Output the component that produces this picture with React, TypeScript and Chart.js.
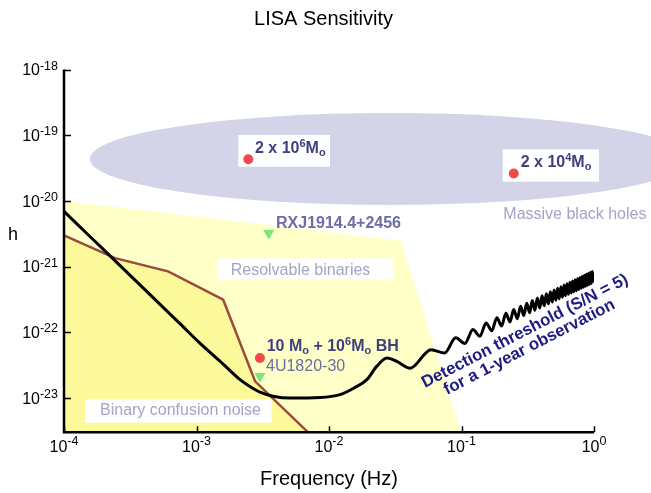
import React, { useEffect, useRef } from 'react';
import { Chart, registerables } from 'chart.js';

Chart.register(...registerables);

// ---------- axis ranges ----------
const X_MIN = 1e-4;
const X_MAX = 1;
const Y_MIN = Math.pow(10, -23.52);
const Y_MAX = 1e-18;

// ---------- tick labels (decade exponents) ----------
const xTickExponents = [-4, -3, -2, -1, 0];
const yTickExponents = [-18, -19, -20, -21, -22, -23];

// ---------- LISA detection threshold (S/N = 5, 1-year) ----------
const sensitivityFreq = [
  1e-4, 1.62e-4, 2.65e-4, 4.46e-4, 7.5e-4, 1.06e-3, 1.59e-3, 2.13e-3, 2.53e-3, 3.01e-3,
  3.78e-3, 5.08e-3, 8.55e-3, 0.0121, 0.0157, 0.0193, 0.0229, 0.0274, 0.0325, 0.041,
  0.0589, 0.0746, 0.0904, 0.1061, 0.1219, 0.1376, 0.1534, 0.1691, 0.1849, 0.2006,
  0.2164, 0.2321, 0.2479, 0.2636, 0.2794, 0.2951, 0.3109, 0.3266, 0.3424, 0.3581,
  0.3739, 0.3896, 0.4054, 0.4211, 0.4369, 0.4526, 0.4684, 0.4841, 0.4999, 0.5156,
  0.5314, 0.5471, 0.5629, 0.5786, 0.5944, 0.6101, 0.6259, 0.6416, 0.6574, 0.6731,
  0.6889, 0.7046, 0.7204, 0.7361, 0.7519, 0.7676, 0.7834, 0.7991, 0.8149, 0.8306,
  0.8464, 0.8621, 0.8779, 0.8936, 0.9094, 0.9251, 0.9409, 0.9566, 0.9724, 0.9881,
];
const sensitivityStrain = [
  6.95e-21, 2.71e-21, 1.04e-21, 3.75e-22, 1.36e-22, 6.87e-23, 3.29e-23, 1.91e-23, 1.5e-23, 1.23e-23,
  1.07e-23, 1.0e-23, 1.02e-23, 1.13e-23, 1.45e-23, 1.91e-23, 3.04e-23, 4.08e-23, 3.62e-23, 2.85e-23,
  5.46e-23, 4.86e-23, 8.3e-23, 6.8e-23, 1.11e-22, 8.71e-23, 1.39e-22, 1.06e-22, 1.67e-22, 1.25e-22,
  1.95e-22, 1.44e-22, 2.23e-22, 1.62e-22, 2.5e-22, 1.81e-22, 2.78e-22, 1.99e-22, 3.05e-22, 2.17e-22,
  3.33e-22, 2.36e-22, 3.6e-22, 2.54e-22, 3.87e-22, 2.72e-22, 4.15e-22, 2.9e-22, 4.42e-22, 3.08e-22,
  4.69e-22, 3.26e-22, 4.97e-22, 3.44e-22, 5.24e-22, 3.61e-22, 5.51e-22, 3.79e-22, 5.78e-22, 3.97e-22,
  6.05e-22, 4.15e-22, 6.32e-22, 4.32e-22, 6.59e-22, 4.5e-22, 6.86e-22, 4.68e-22, 7.13e-22, 4.85e-22,
  7.4e-22, 5.02e-22, 7.67e-22, 5.2e-22, 7.94e-22, 5.38e-22, 8.2e-22, 5.56e-22, 8.47e-22, 5.73e-22,
];

// ---------- binary confusion noise (upper edge) ----------
const confusionFreq = [1e-4, 2.43e-4, 6.1e-4, 1.59e-3, 2.77e-3, 6.95e-3];
const confusionStrain = [3.0e-21, 1.35e-21, 8.5e-22, 3.14e-22, 1.8e-23, Y_MIN];

// ---------- resolvable binaries region (upper edge) ----------
const resolvableFreq = [1e-4, 0.0349, 0.099];
const resolvableStrain = [1e-20, 2.48e-21, Y_MIN];

// ---------- sources ----------
const massiveBHFreq = [2.46e-3, 0.248];
const massiveBHStrain = [4.31e-20, 2.61e-20];
const captureFreq = [3.01e-3];
const captureStrain = [4.08e-23];
const binaryFreq = [3.51e-3, 3.01e-3];
const binaryStrain = [3.24e-21, 2.15e-23];

// ---------- massive black hole region (ellipse in log-log space) ----------
const mbhCenterFreq = 0.0288;
const mbhCenterStrain = 4.36e-20;
const mbhHalfWidthDecades = 2.264;
const mbhHalfHeightDecades = 0.7;

const FONT = '"Liberation Sans", Arial, Helvetica, sans-serif';

const toPoints = (xs: number[], ys: number[]) => xs.map((x, i) => ({ x, y: ys[i] }));

// reference pixel frame of the plot area, used to place annotation texts
const REF = { left: 64, right: 594, top: 69.5, bottom: 432.3 };

type Part = { t: string; s: number; b?: boolean; dy?: number };

function partsWidth(ctx: CanvasRenderingContext2D, parts: Part[]) {
  let w = 0;
  for (const p of parts) {
    ctx.font = `${p.b ? 'bold ' : ''}${p.s}px ${FONT}`;
    w += ctx.measureText(p.t).width;
  }
  return w;
}

function drawParts(ctx: CanvasRenderingContext2D, parts: Part[], x: number, y: number) {
  let cx = x;
  for (const p of parts) {
    ctx.font = `${p.b ? 'bold ' : ''}${p.s}px ${FONT}`;
    ctx.fillText(p.t, cx, y + (p.dy || 0));
    cx += ctx.measureText(p.t).width;
  }
}

const decorPlugin = {
  id: 'lisaDecor',
  beforeDatasetsDraw(chart: any) {
    const { ctx, scales } = chart;
    const xs = scales.x;
    const ys = scales.y;
    const cx = xs.getPixelForValue(mbhCenterFreq);
    const cy = ys.getPixelForValue(mbhCenterStrain);
    const pxPerDecX = xs.getPixelForValue(1) - xs.getPixelForValue(0.1);
    const pxPerDecY = ys.getPixelForValue(1e-21) - ys.getPixelForValue(1e-20);
    ctx.save();
    ctx.fillStyle = '#d3d4e8';
    ctx.beginPath();
    ctx.ellipse(cx, cy, mbhHalfWidthDecades * pxPerDecX, mbhHalfHeightDecades * pxPerDecY, 0, 0, Math.PI * 2);
    ctx.fill();
    ctx.restore();
  },
  afterDatasetDraw(chart: any, args: any) {
    if (args.index !== 1) return;
    const { ctx, chartArea: ca } = chart;
    const mx = (x: number) => ca.left + ((x - REF.left) * (ca.right - ca.left)) / (REF.right - REF.left);
    const my = (y: number) => ca.top + ((y - REF.top) * (ca.bottom - ca.top)) / (REF.bottom - REF.top);
    const boxes = [
      [238.3, 135, 330, 166.7],
      [502.7, 149.3, 599, 181.7],
      [218, 258.3, 393.3, 279.3],
      [85, 399.5, 271.7, 422.7],
    ];
    ctx.save();
    ctx.fillStyle = '#ffffff';
    for (const [x1, y1, x2, y2] of boxes) {
      ctx.fillRect(mx(x1), my(y1), mx(x2) - mx(x1), my(y2) - my(y1));
    }
    ctx.restore();
  },
  afterDatasetsDraw(chart: any) {
    const { ctx, chartArea: ca, scales } = chart;
    const xs = scales.x;
    const ys = scales.y;
    const mx = (x: number) => ca.left + ((x - REF.left) * (ca.right - ca.left)) / (REF.right - REF.left);
    const my = (y: number) => ca.top + ((y - REF.top) * (ca.bottom - ca.top)) / (REF.bottom - REF.top);

    ctx.save();
    ctx.textBaseline = 'alphabetic';
    ctx.textAlign = 'left';

    // source labels
    const dark = '#40407e';
    const mid = '#6d6da5';
    const light = '#a3a3c8';
    ctx.fillStyle = dark;
    drawParts(ctx, [
      { t: '2 x 10', s: 16, b: true },
      { t: '6', s: 11, b: true, dy: -6 },
      { t: 'M', s: 16, b: true },
      { t: 'o', s: 11, b: true, dy: 3.5 },
    ], mx(255), my(152.7));
    drawParts(ctx, [
      { t: '2 x 10', s: 16, b: true },
      { t: '4', s: 11, b: true, dy: -6 },
      { t: 'M', s: 16, b: true },
      { t: 'o', s: 11, b: true, dy: 3.5 },
    ], mx(520.7), my(166.7));
    drawParts(ctx, [
      { t: '10 M', s: 16, b: true },
      { t: 'o', s: 11, b: true, dy: 3.5 },
      { t: ' + 10', s: 16, b: true },
      { t: '6', s: 11, b: true, dy: -6 },
      { t: 'M', s: 16, b: true },
      { t: 'o', s: 11, b: true, dy: 3.5 },
      { t: ' BH', s: 16, b: true },
    ], mx(266.7), my(350.7));

    ctx.fillStyle = mid;
    ctx.font = `bold 16px ${FONT}`;
    ctx.fillText('RXJ1914.4+2456', mx(276), my(227.7));
    ctx.font = `16px ${FONT}`;
    ctx.fillText('4U1820-30', mx(266), my(370.7));

    ctx.fillStyle = light;
    ctx.font = `16px ${FONT}`;
    ctx.fillText('Massive black holes', mx(503.3), my(219.3));
    ctx.fillText('Resolvable binaries', mx(230.7), my(275.3));
    ctx.fillText('Binary confusion noise', mx(100), my(415));

    // rotated detection threshold label
    ctx.fillStyle = '#1c1c84';
    ctx.font = `bold 16.8px ${FONT}`;
    const ang = (-27.3 * Math.PI) / 180;
    ctx.save();
    ctx.translate(mx(425), my(388));
    ctx.rotate(ang);
    ctx.fillText('Detection threshold (S/N = 5)', 0, 0);
    ctx.restore();
    ctx.save();
    ctx.translate(mx(447), my(395));
    ctx.rotate(ang);
    ctx.fillText('for a 1-year observation', 0, 0);
    ctx.restore();

    // axes lines
    ctx.strokeStyle = '#000000';
    ctx.lineWidth = 2.5;
    ctx.beginPath();
    ctx.moveTo(ca.left, ca.top);
    ctx.lineTo(ca.left, ca.bottom);
    ctx.lineTo(ca.right, ca.bottom);
    ctx.stroke();

    // ticks (inward)
    ctx.lineWidth = 1.5;
    ctx.beginPath();
    for (const e of yTickExponents) {
      const y = Math.round(ys.getPixelForValue(Math.pow(10, e))) + 0.5;
      ctx.moveTo(ca.left, y);
      ctx.lineTo(ca.left + 7, y);
    }
    for (const e of xTickExponents) {
      const x = Math.round(xs.getPixelForValue(Math.pow(10, e))) + 0.5;
      ctx.moveTo(x, ca.bottom);
      ctx.lineTo(x, ca.bottom - 6);
    }
    ctx.stroke();

    // tick labels with superscript exponents
    ctx.fillStyle = '#000000';
    for (const e of yTickExponents) {
      const y = ys.getPixelForValue(Math.pow(10, e));
      const parts: Part[] = [
        { t: '10', s: 16, dy: 5.7 },
        { t: String(e), s: 12.5, dy: 0 },
      ];
      const w = partsWidth(ctx, parts);
      drawParts(ctx, parts, ca.left - 6 - w, y);
    }
    for (const e of xTickExponents) {
      const x = xs.getPixelForValue(Math.pow(10, e));
      const parts: Part[] = [
        { t: '10', s: 16, dy: 7 },
        { t: String(e), s: 12.5, dy: 0 },
      ];
      const w = partsWidth(ctx, parts);
      drawParts(ctx, parts, x - w / 2, ca.bottom + 12.7);
    }

    // title and axis titles
    ctx.textAlign = 'center';
    ctx.font = `20px ${FONT}`;
    ctx.fillText('LISA Sensitivity', 323.5, 25);
    ctx.fillText('Frequency (Hz)', (ca.left + ca.right) / 2, 485);
    ctx.font = `18px ${FONT}`;
    ctx.fillText('h', 13, 240);
    ctx.restore();
  },
};

export default function App() {
  const ref = useRef<HTMLCanvasElement | null>(null);

  useEffect(() => {
    if (!ref.current) return;
    const chart = new Chart(ref.current, {
      type: 'scatter',
      data: {
        datasets: [
          {
            label: 'Detection threshold',
            data: toPoints(sensitivityFreq, sensitivityStrain),
            showLine: true,
            borderColor: '#000000',
            borderWidth: 3,
            pointRadius: 0,
            tension: 0.4,
            cubicInterpolationMode: 'monotone',
            fill: false,
            order: 1,
          },
          {
            label: 'Binary confusion noise',
            data: toPoints(confusionFreq, confusionStrain),
            showLine: true,
            borderColor: '#9c4a3e',
            borderWidth: 2.5,
            backgroundColor: '#fcf99a',
            pointRadius: 0,
            tension: 0,
            fill: 'start',
            order: 3,
          },
          {
            label: 'Resolvable binaries',
            data: toPoints(resolvableFreq, resolvableStrain),
            showLine: true,
            borderWidth: 0,
            borderColor: 'rgba(0,0,0,0)',
            backgroundColor: '#ffffc8',
            pointRadius: 0,
            tension: 0,
            fill: 'start',
            order: 4,
          },
          {
            label: 'Massive black holes',
            data: toPoints(massiveBHFreq, massiveBHStrain),
            pointRadius: 5,
            backgroundColor: '#f04a4a',
            borderWidth: 0,
            order: 0,
          },
          {
            label: 'Capture',
            data: toPoints(captureFreq, captureStrain),
            pointRadius: 5,
            backgroundColor: '#f04a4a',
            borderWidth: 0,
            order: 0,
          },
          {
            label: 'Binaries',
            data: toPoints(binaryFreq, binaryStrain),
            pointStyle: 'triangle',
            rotation: 180,
            pointRadius: 6.5,
            backgroundColor: '#7ce67c',
            borderWidth: 0,
            order: 0,
          },
        ],
      },
      options: {
        animation: false,
        responsive: false,
        maintainAspectRatio: false,
        layout: { padding: { left: 64, right: 57, top: 69.5, bottom: 60.7 } },
        plugins: {
          legend: { display: false },
          tooltip: { enabled: false },
          title: { display: false },
        },
        scales: {
          x: {
            type: 'logarithmic',
            min: X_MIN,
            max: X_MAX,
            grid: { display: false, drawTicks: false },
            border: { display: false },
            ticks: { display: false },
          },
          y: {
            type: 'logarithmic',
            min: Y_MIN,
            max: Y_MAX,
            grid: { display: false, drawTicks: false },
            border: { display: false },
            ticks: { display: false },
          },
        },
      },
      plugins: [decorPlugin],
    } as any);
    return () => chart.destroy();
  }, []);

  return (
    <div style={{ position: 'fixed', left: 0, top: 0, width: 651, height: 493, background: '#ffffff' }}>
      <canvas ref={ref} width={651} height={493} style={{ display: 'block' }} />
    </div>
  );
}
